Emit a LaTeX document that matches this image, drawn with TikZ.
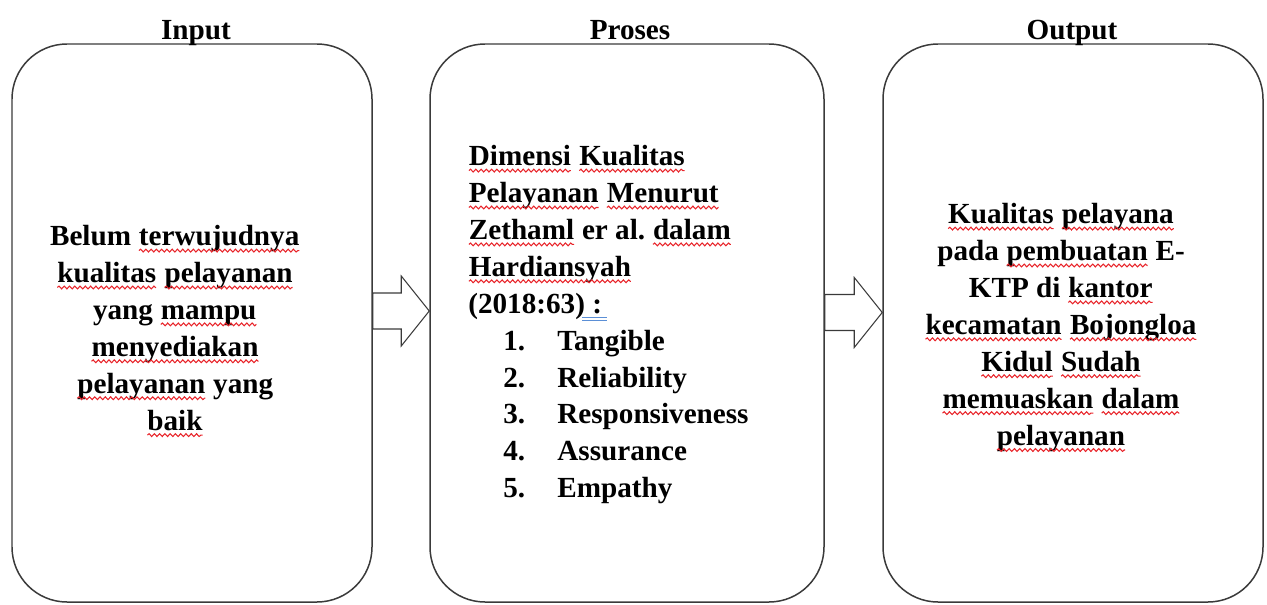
\documentclass[tikz,border=0pt]{standalone}
\usepackage{fontspec}
\setmainfont{Liberation Serif}
\usetikzlibrary{calc}
\usetikzlibrary{decorations.pathmorphing}
\definecolor{bxline}{HTML}{3A3A3A}
\definecolor{sqred}{HTML}{E8242A}
\definecolor{mkblue}{HTML}{5B8FD6}
\newcommand{\bxh}{11.16cm}
\newcommand{\bxr}{1.1cm}
\newcommand{\bxcy}{5.62}
\newcommand{\sq}[1]{\tikz[baseline=(sqw.base)]{%
  \node[inner sep=0pt,outer sep=0pt] (sqw) {#1};
  \draw[sqred,line width=0.6pt,decorate,
    decoration={snake,amplitude=0.8pt,segment length=3pt}]
    ($(sqw.base west)+(0,-0.1)$) -- ($(sqw.base east)+(0,-0.1)$);}}
\newcommand{\blmark}{\tikz[overlay,baseline=0pt]{%
  \draw[mkblue,line width=0.5pt] (-0.06,-0.09) -- (0.44,-0.09)
    (-0.06,-0.14) -- (0.44,-0.14);}}
\newcommand{\blkarrow}[3]{\draw[blk]
  ($(#1.east)+(0,#3+0.36)$) -- ($(#2.west)+(-0.56,#3+0.36)$)
  -- ($(#2.west)+(-0.56,#3+0.7)$) -- ($(#2.west)+(0,#3)$)
  -- ($(#2.west)+(-0.56,#3-0.7)$) -- ($(#2.west)+(-0.56,#3-0.36)$)
  -- ($(#1.east)+(0,#3-0.36)$) -- cycle;}
\tikzset{
  bx/.style={draw=bxline,line width=0.85pt,rounded corners=\bxr,
    minimum height=\bxh},
  ttl/.style={anchor=base,inner sep=0pt},
  txt/.style={inner sep=0pt},
  blk/.style={draw=bxline,line width=0.6pt,line join=miter}
}
\frenchspacing
\begin{document}
\begin{tikzpicture}[font=\fontsize{16.6}{21}\selectfont\bfseries]
    \useasboundingbox (0,0) rectangle (25.34,12.08);

    \node[bx,minimum width=7.2cm] (inbox) at (3.84,\bxcy) {};
    \node[bx,minimum width=7.88cm] (prbox) at (12.54,\bxcy) {};
    \node[bx,minimum width=7.6cm] (outbox) at (21.46,\bxcy) {};

    \node[ttl] (inttl) at ($(inbox.north)+(0.08,0.08)$) {Input};
    \node[ttl] (prttl) at ($(prbox.north)+(0.06,0.08)$) {Proses};
    \node[ttl] (outttl) at ($(outbox.north)+(-0.02,0.08)$) {Output};

    \node[txt,anchor=north,align=center] (intxt) at (3.5,7.58)
      {Belum \sq{terwujudnya}\\ \sq{kualitas} \sq{pelayanan}\\
       yang \sq{mampu}\\ \sq{menyediakan}\\ \sq{pelayanan} yang\\
       \sq{baik}};
    \node[txt,anchor=north west,align=left] (prtxt) at (9.36,9.18)
      {\sq{Dimensi} \sq{Kualitas}\\ \sq{Pelayanan} \sq{Menurut}\\
       \sq{Zethaml} er al.\ \sq{dalam}\\ \sq{Hardiansyah}\\
       (2018:63)\blmark\ :\\
       \hspace*{0.7cm}\makebox[1.08cm][l]{1.}Tangible\\
       \hspace*{0.7cm}\makebox[1.08cm][l]{2.}Reliability\\
       \hspace*{0.7cm}\makebox[1.08cm][l]{3.}Responsiveness\\
       \hspace*{0.7cm}\makebox[1.08cm][l]{4.}Assurance\\
       \hspace*{0.7cm}\makebox[1.08cm][l]{5.}Empathy};
    \node[txt,anchor=north,align=center] (outtxt) at (21.22,8.02)
      {\sq{Kualitas} \sq{pelayana}\\ pada \sq{pembuatan} E-\\
       KTP di \sq{kantor}\\ \sq{kecamatan} \sq{Bojongloa}\\
       \sq{Kidul} \sq{Sudah}\\ \sq{memuaskan} \sq{dalam}\\
       \sq{pelayanan}};

    \blkarrow{inbox}{prbox}{0.24}
    \blkarrow{prbox}{outbox}{0.21}
  \end{tikzpicture}
\end{document}
